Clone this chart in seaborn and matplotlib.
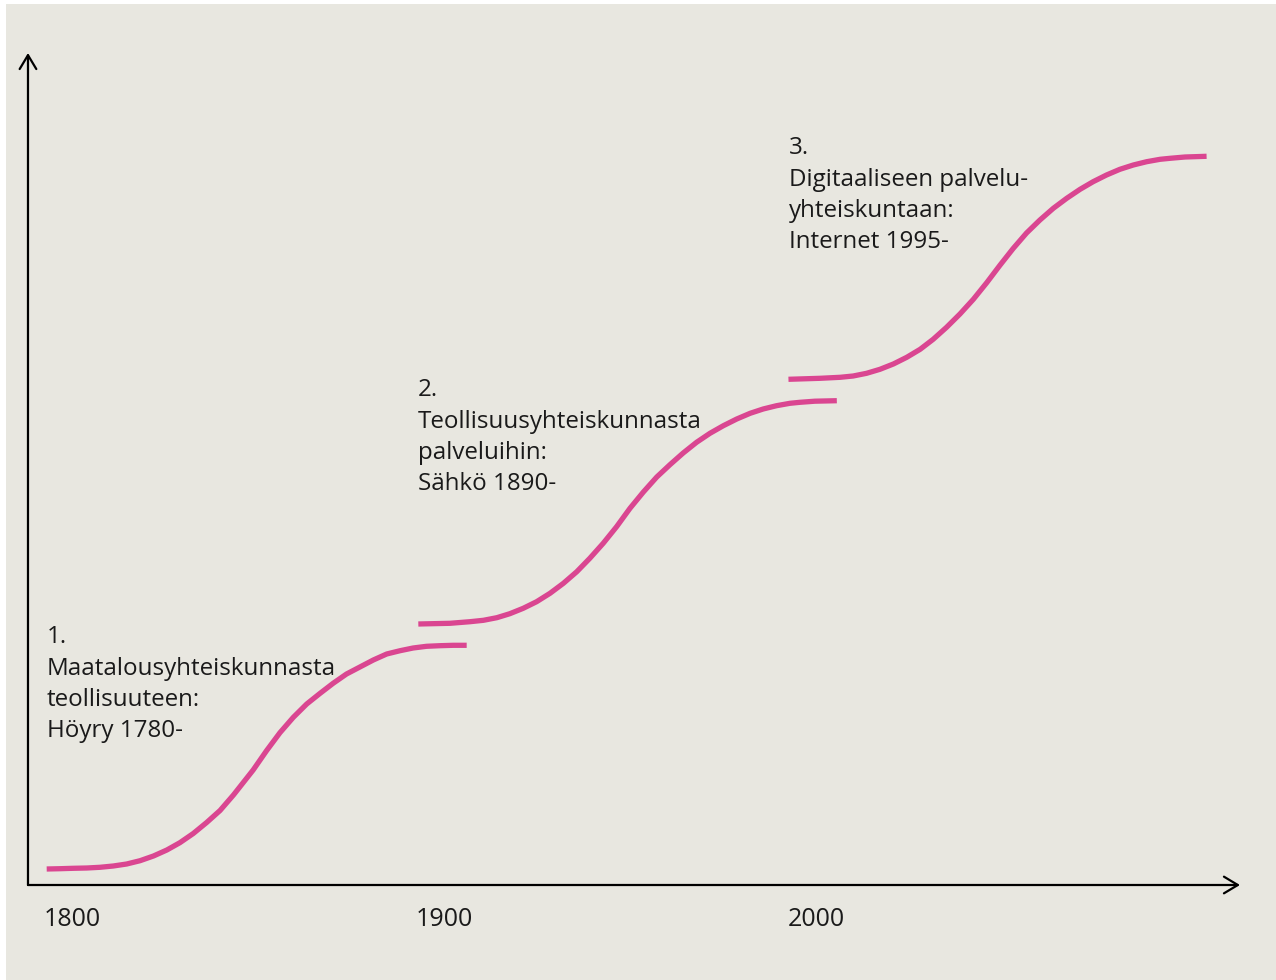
import matplotlib
matplotlib.use("Agg")
import matplotlib.pyplot as plt
import seaborn as sns
import pandas as pd

# ---- data (years on x, relative development level on y) ----
wave1_year = [1793.2, 1796.8, 1800.3, 1804.0, 1807.5, 1811.1, 1814.7, 1818.3, 1821.9,
              1825.5, 1829.0, 1832.6, 1836.2, 1839.8, 1843.4, 1848.7, 1852.3, 1855.9,
              1859.5, 1863.1, 1866.7, 1870.2, 1873.8, 1877.4, 1881.0, 1884.6, 1888.2,
              1891.7, 1895.3, 1898.9, 1902.5, 1906.1]
wave1_level = [16.0, 16.3, 16.7, 17.0, 17.7, 19.0, 21.0, 24.3, 29.0,
               35.0, 42.3, 51.5, 62.5, 74.5, 90.0, 115.0, 134.3, 152.3,
               167.7, 181.0, 191.7, 201.7, 211.0, 218.0, 225.0, 231.0, 234.3,
               237.0, 238.7, 239.3, 239.7, 239.7]

wave2_year = [1893.1, 1901.6, 1907.0, 1910.6, 1914.2, 1917.7, 1921.3, 1924.9, 1928.5,
              1932.1, 1935.7, 1939.2, 1942.8, 1946.4, 1950.0, 1953.6, 1957.2, 1960.8,
              1964.3, 1967.9, 1971.5, 1975.1, 1978.7, 1982.3, 1985.8, 1989.4, 1993.0,
              1995.7, 1999.7, 2005.6]
wave2_level = [261.0, 261.7, 263.3, 264.7, 267.3, 271.3, 276.7, 283.3, 291.7,
               301.7, 313.3, 326.7, 341.7, 358.3, 376.7, 393.0, 408.0, 420.5,
               432.0, 442.7, 451.7, 459.3, 466.0, 471.7, 476.0, 479.3, 481.7,
               482.7, 483.8, 484.3]

wave3_year = [1992.6, 2001.1, 2006.5, 2010.0, 2013.6, 2017.2, 2020.8, 2024.4, 2028.0,
              2031.5, 2035.1, 2038.7, 2042.3, 2045.9, 2049.5, 2053.0, 2056.6, 2060.2,
              2063.8, 2067.4, 2071.0, 2074.5, 2078.1, 2081.7, 2085.3, 2088.9, 2092.5,
              2095.2, 2099.2, 2105.0]
wave3_level = [505.7, 506.7, 507.7, 509.0, 511.7, 515.7, 521.0, 527.7, 535.7,
               545.7, 557.7, 571.0, 585.7, 602.3, 620.0, 636.5, 652.0, 665.0,
               676.7, 686.7, 695.7, 703.3, 710.0, 715.7, 720.0, 723.3, 725.7,
               726.7, 728.0, 728.7]

wave_labels = [
    "1.\nMaatalousyhteiskunnasta\nteollisuuteen:\nHöyry 1780-",
    "2.\nTeollisuusyhteiskunnasta\npalveluihin:\nSähkö 1890-",
    "3.\nDigitaaliseen palvelu-\nyhteiskuntaan:\nInternet 1995-",
]
tick_years = [1800, 1900, 2000]
tick_labels = ["1800", "1900", "2000"]

# ---- style ----
BG = "#E8E7E0"
PINK = "#DA4691"
TEXT = "#1a1a1a"
sns.set_theme(style="white")
plt.rcParams["font.family"] = ["Open Sans", "DejaVu Sans"]

fig = plt.figure(figsize=(12.76, 9.80), dpi=100, facecolor="white")
ax = fig.add_axes([6 / 1276, 0, 1270 / 1276, 976 / 980])
ax.set_facecolor(BG)
ax.set_xlim(1782.26, 2123.66)
ax.set_ylim(-95, 881)
for s in ax.spines.values():
    s.set_visible(False)
ax.set_xticks([])
ax.set_yticks([])

waves = [(wave1_year, wave1_level), (wave2_year, wave2_level), (wave3_year, wave3_level)]
for xs, ys in waves:
    df = pd.DataFrame({"year": xs, "level": ys})
    sns.lineplot(data=df, x="year", y="level", ax=ax, color=PINK, linewidth=3.8,
                 estimator=None, sort=False, legend=False,
                 solid_capstyle="butt", solid_joinstyle="round")

ax.set_xlabel("")
ax.set_ylabel("")

# axis arrows
arrow_kw = dict(arrowstyle="->,head_length=1.0,head_width=0.6", lw=1.6, color="black",
                shrinkA=0, shrinkB=0, mutation_scale=10)
ax.annotate("", xy=(1788.17, 832), xytext=(1788.17, 0), arrowprops=arrow_kw)
ax.annotate("", xy=(2113.98, 0), xytext=(1788.17, 0), arrowprops=arrow_kw)

# tick labels
for yr, lab in zip(tick_years, tick_labels):
    ax.text(yr, -41, lab, ha="center", va="baseline", fontsize=18, color=TEXT)

# wave labels (anchored at the baseline of the last line)
label_pos = [(1793.3, 148), (1893.0, 395), (1992.7, 637)]
for (x, y), lab in zip(label_pos, wave_labels):
    ax.text(x, y, lab, ha="left", va="baseline", fontsize=17.4, color=TEXT,
            linespacing=1.40)

fig.savefig("out.png", dpi=100, facecolor="white")
